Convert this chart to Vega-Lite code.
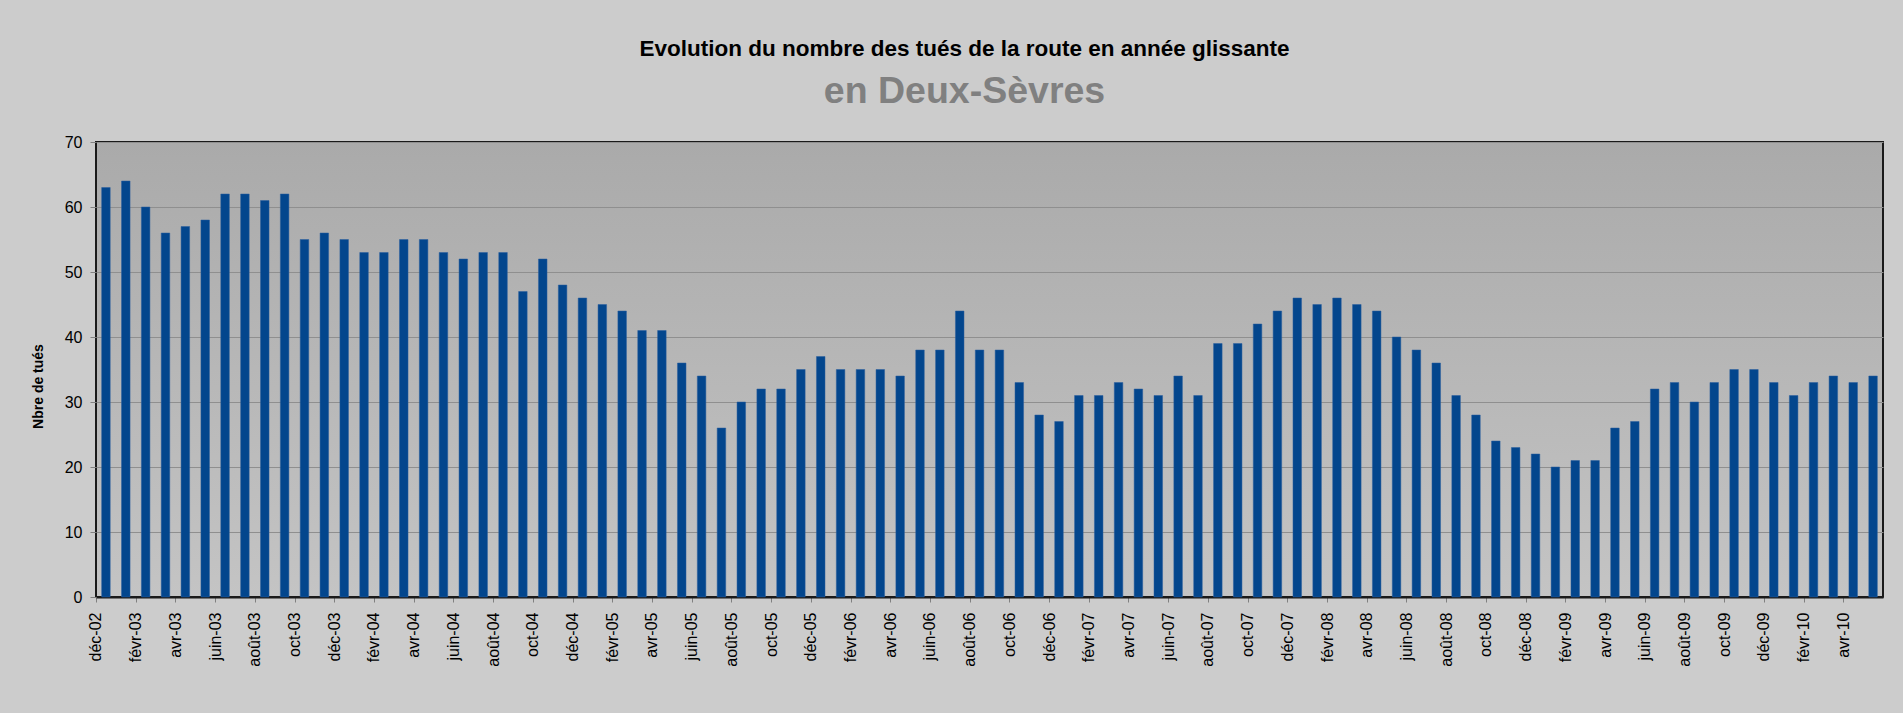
{
  "$schema": "https://vega.github.io/schema/vega-lite/v6.json",
  "width": 1787,
  "height": 455,
  "autosize": {"type": "none"},
  "padding": {"left": 96, "top": 142, "right": 20, "bottom": 116},
  "background": "#cccccc",
  "title": {
    "text": "Evolution du nombre des tués de la route en année glissante",
    "subtitle": "en Deux-Sèvres",
    "anchor": "middle",
    "dx": -25,
    "offset": 24,
    "font": "Liberation Sans",
    "fontSize": 22.5,
    "fontWeight": "bold",
    "color": "#000000",
    "subtitleFont": "Liberation Sans",
    "subtitleFontSize": 37.5,
    "subtitleFontWeight": "bold",
    "subtitleColor": "#808080",
    "subtitlePadding": 12
  },
  "config": {
    "view": {
      "stroke": "#1a1a1a",
      "strokeWidth": 2,
      "fill": {
        "gradient": "linear",
        "x1": 0, "y1": 0, "x2": 0, "y2": 1,
        "stops": [
          {"offset": 0, "color": "#aaaaaa"},
          {"offset": 1, "color": "#c4c4c4"}
        ]
      }
    }
  },
  "data": {
    "values": [
      {"mois": "déc-02", "tues": 63},
      {"mois": "janv-03", "tues": 64},
      {"mois": "févr-03", "tues": 60},
      {"mois": "mars-03", "tues": 56},
      {"mois": "avr-03", "tues": 57},
      {"mois": "mai-03", "tues": 58},
      {"mois": "juin-03", "tues": 62},
      {"mois": "juil-03", "tues": 62},
      {"mois": "août-03", "tues": 61},
      {"mois": "sept-03", "tues": 62},
      {"mois": "oct-03", "tues": 55},
      {"mois": "nov-03", "tues": 56},
      {"mois": "déc-03", "tues": 55},
      {"mois": "janv-04", "tues": 53},
      {"mois": "févr-04", "tues": 53},
      {"mois": "mars-04", "tues": 55},
      {"mois": "avr-04", "tues": 55},
      {"mois": "mai-04", "tues": 53},
      {"mois": "juin-04", "tues": 52},
      {"mois": "juil-04", "tues": 53},
      {"mois": "août-04", "tues": 53},
      {"mois": "sept-04", "tues": 47},
      {"mois": "oct-04", "tues": 52},
      {"mois": "nov-04", "tues": 48},
      {"mois": "déc-04", "tues": 46},
      {"mois": "janv-05", "tues": 45},
      {"mois": "févr-05", "tues": 44},
      {"mois": "mars-05", "tues": 41},
      {"mois": "avr-05", "tues": 41},
      {"mois": "mai-05", "tues": 36},
      {"mois": "juin-05", "tues": 34},
      {"mois": "juil-05", "tues": 26},
      {"mois": "août-05", "tues": 30},
      {"mois": "sept-05", "tues": 32},
      {"mois": "oct-05", "tues": 32},
      {"mois": "nov-05", "tues": 35},
      {"mois": "déc-05", "tues": 37},
      {"mois": "janv-06", "tues": 35},
      {"mois": "févr-06", "tues": 35},
      {"mois": "mars-06", "tues": 35},
      {"mois": "avr-06", "tues": 34},
      {"mois": "mai-06", "tues": 38},
      {"mois": "juin-06", "tues": 38},
      {"mois": "juil-06", "tues": 44},
      {"mois": "août-06", "tues": 38},
      {"mois": "sept-06", "tues": 38},
      {"mois": "oct-06", "tues": 33},
      {"mois": "nov-06", "tues": 28},
      {"mois": "déc-06", "tues": 27},
      {"mois": "janv-07", "tues": 31},
      {"mois": "févr-07", "tues": 31},
      {"mois": "mars-07", "tues": 33},
      {"mois": "avr-07", "tues": 32},
      {"mois": "mai-07", "tues": 31},
      {"mois": "juin-07", "tues": 34},
      {"mois": "juil-07", "tues": 31},
      {"mois": "août-07", "tues": 39},
      {"mois": "sept-07", "tues": 39},
      {"mois": "oct-07", "tues": 42},
      {"mois": "nov-07", "tues": 44},
      {"mois": "déc-07", "tues": 46},
      {"mois": "janv-08", "tues": 45},
      {"mois": "févr-08", "tues": 46},
      {"mois": "mars-08", "tues": 45},
      {"mois": "avr-08", "tues": 44},
      {"mois": "mai-08", "tues": 40},
      {"mois": "juin-08", "tues": 38},
      {"mois": "juil-08", "tues": 36},
      {"mois": "août-08", "tues": 31},
      {"mois": "sept-08", "tues": 28},
      {"mois": "oct-08", "tues": 24},
      {"mois": "nov-08", "tues": 23},
      {"mois": "déc-08", "tues": 22},
      {"mois": "janv-09", "tues": 20},
      {"mois": "févr-09", "tues": 21},
      {"mois": "mars-09", "tues": 21},
      {"mois": "avr-09", "tues": 26},
      {"mois": "mai-09", "tues": 27},
      {"mois": "juin-09", "tues": 32},
      {"mois": "juil-09", "tues": 33},
      {"mois": "août-09", "tues": 30},
      {"mois": "sept-09", "tues": 33},
      {"mois": "oct-09", "tues": 35},
      {"mois": "nov-09", "tues": 35},
      {"mois": "déc-09", "tues": 33},
      {"mois": "janv-10", "tues": 31},
      {"mois": "févr-10", "tues": 33},
      {"mois": "mars-10", "tues": 34},
      {"mois": "avr-10", "tues": 33},
      {"mois": "mai-10", "tues": 34}
    ]
  },
  "mark": {"type": "bar", "color": "#03468d", "stroke": "#2a5f9e", "strokeWidth": 0.5},
  "encoding": {
    "x": {
      "field": "mois",
      "type": "ordinal",
      "sort": null,
      "scale": {"paddingInner": 0.57, "paddingOuter": 0.285},
      "axis": {
        "title": null,
        "values": ["déc-02","févr-03","avr-03","juin-03","août-03","oct-03","déc-03","févr-04","avr-04","juin-04","août-04","oct-04","déc-04","févr-05","avr-05","juin-05","août-05","oct-05","déc-05","févr-06","avr-06","juin-06","août-06","oct-06","déc-06","févr-07","avr-07","juin-07","août-07","oct-07","déc-07","févr-08","avr-08","juin-08","août-08","oct-08","déc-08","févr-09","avr-09","juin-09","août-09","oct-09","déc-09","févr-10","avr-10"],
        "labelAngle": 270,
        "labelAlign": "right",
        "labelBaseline": "middle",
        "labelFont": "Liberation Sans",
        "labelFontSize": 16,
        "labelColor": "#000000",
        "labelPadding": 10,
        "tickSize": 5,
        "tickColor": "#808080",
        "tickWidth": 1,
        "tickOffset": -9.93,
        "domainColor": "#1a1a1a",
        "domainWidth": 2,
        "grid": false
      }
    },
    "y": {
      "field": "tues",
      "type": "quantitative",
      "scale": {"domain": [0, 70]},
      "axis": {
        "title": "Nbre de tués",
        "titleFont": "Liberation Sans",
        "titleFontSize": 14,
        "titleFontWeight": "bold",
        "titleColor": "#000000",
        "titleAngle": -90,
        "titleX": -58,
        "titleY": 244,
        "titleAlign": "center",
        "titleBaseline": "middle",
        "values": [0, 10, 20, 30, 40, 50, 60, 70],
        "labelFont": "Liberation Sans",
        "labelFontSize": 16,
        "labelColor": "#000000",
        "labelPadding": 8,
        "tickSize": 6,
        "tickColor": "#808080",
        "domain": false,
        "grid": true,
        "gridColor": "#8f8f8f",
        "gridWidth": 1
      }
    }
  }
}
